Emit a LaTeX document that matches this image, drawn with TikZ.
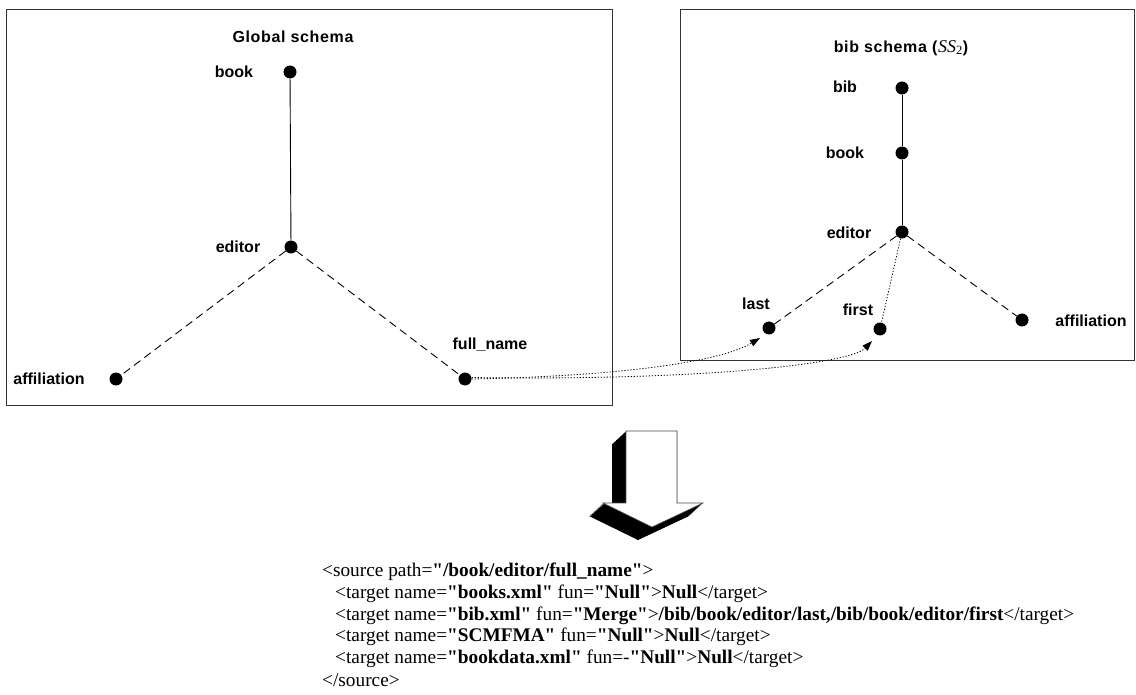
\documentclass[tikz,border=0pt]{standalone}
\usepackage{fontspec}
\setmainfont{Liberation Serif}[Ligatures=TeXOff]
\setsansfont{Liberation Sans}
\usetikzlibrary{arrows.meta}

\begin{document}
\begin{tikzpicture}[x=1pt,y=-1pt,
  dot/.style={circle,fill=black,inner sep=0pt,minimum size=13pt},
  lbl/.style={font=\sffamily\bfseries\fontsize{16}{18}\selectfont,inner sep=0pt},
  ttl/.style={font=\sffamily\bfseries\fontsize{16}{18}\selectfont\addfontfeature{LetterSpace=4},inner sep=0pt},
  frame/.style={draw=black!80,line width=0.9pt},
  tree/.style={line width=0.9pt},
  dsh/.style={line width=0.9pt,dash pattern=on 8pt off 5pt},
  dots/.style={line width=0.8pt,dash pattern=on 1.2pt off 1.8pt},
  map/.style={dots,-{Triangle[length=10pt,width=7pt]}},
  code/.style={font=\rmfamily\fontsize{19.3}{21.7}\selectfont,anchor=west,inner sep=0pt}
]
\useasboundingbox (0,0) rectangle (1136,695);
\fill[white] (0,0) rectangle (1136,695);

% the two schema frames
\draw[frame] (6,9) rectangle (612,405);
\draw[frame] (680,9) rectangle (1134,360);

% global schema tree
\node[ttl] (gtitle) at (293,37) {Global schema};
\node[dot] (gbook) at (290,72) {};
\node[dot] (geditor) at (291,247) {};
\node[dot] (gaff) at (116,379) {};
\node[dot] (gfull) at (465,379) {};
\node[lbl] (gbookl) at (234,72) {book};
\node[lbl] (geditorl) at (238,247) {editor};
\node[lbl] (gaffl) at (49,379) {affiliation};
\node[lbl] (gfulll) at (490,345) {full\_name};
\draw[tree] (gbook) -- (geditor);
\draw[dsh] (geditor) -- (gaff);
\draw[dsh] (geditor) -- (gfull);

% bib schema tree
\node[ttl] (btitle) at (901,48) {bib schema (\textrm{\mdseries\fontsize{18}{18}\selectfont\textit{SS}\textsubscript{2}})};
\node[dot] (bbib) at (902,88) {};
\node[dot] (bbook) at (902,153) {};
\node[dot] (beditor) at (902,232) {};
\node[dot] (blast) at (769,328) {};
\node[dot] (bfirst) at (880,329) {};
\node[dot] (baff) at (1022,320) {};
\node[lbl] (bbibl) at (845,87) {bib};
\node[lbl] (bbookl) at (845,153) {book};
\node[lbl] (beditorl) at (849,233) {editor};
\node[lbl] (blastl) at (756,304) {last};
\node[lbl] (bfirstl) at (858,310) {first};
\node[lbl] (baffl) at (1091,321) {affiliation};
\draw[tree] (bbib) -- (bbook) -- (beditor);
\draw[dsh] (beditor) -- (blast);
\draw[dots] (beditor) -- (bfirst);
\draw[dsh] (beditor) -- (baff);

% mappings from full_name
\coordinate (tlast) at (760,338);
\coordinate (tfirst) at (872,341);
\draw[map] (gfull.east) .. controls (620,376) and (720,362) .. (tlast);
\draw[map] ([yshift=1.5pt]gfull.east) .. controls (700,381) and (850,364) .. (tfirst);

% block arrow with shadow
\foreach \t in {0,0.05,...,1.001}{
  \fill[black,shift={(-14*\t,13*\t)}] (626,431) -- (677,431) -- (677,503) -- (703,503)
    -- (652,527) -- (603,503) -- (626,503) -- cycle;
}
\filldraw[fill=white,draw=black!70,line width=0.6pt] (626,431) -- (677,431) -- (677,503)
  -- (703,503) -- (652,527) -- (603,503) -- (626,503) -- cycle;

% resulting mapping entry
\node[code] (l1) at (322,572) {<source path=\textbf{"/book/editor/full\_name"}>};
\node[code] (l2) at (335,593.7) {<target name=\textbf{"books.xml"} fun=\textbf{"Null"}>\textbf{Null}</target>};
\node[code] (l3) at (335,615.4) {<target name=\textbf{"bib.xml"} fun=\textbf{"Merge"}>\textbf{/bib/book/editor/last,/bib/book/editor/first}</target>};
\node[code] (l4) at (335,637.1) {<target name=\textbf{"SCMFMA"} fun=\textbf{"Null"}>\textbf{Null}</target>};
\node[code] (l5) at (335,658.8) {<target name=\textbf{"bookdata.xml"} fun=-\textbf{"Null"}>\textbf{Null}</target>};
\node[code] (l6) at (322,680.5) {</source>};
\end{tikzpicture}
\end{document}
